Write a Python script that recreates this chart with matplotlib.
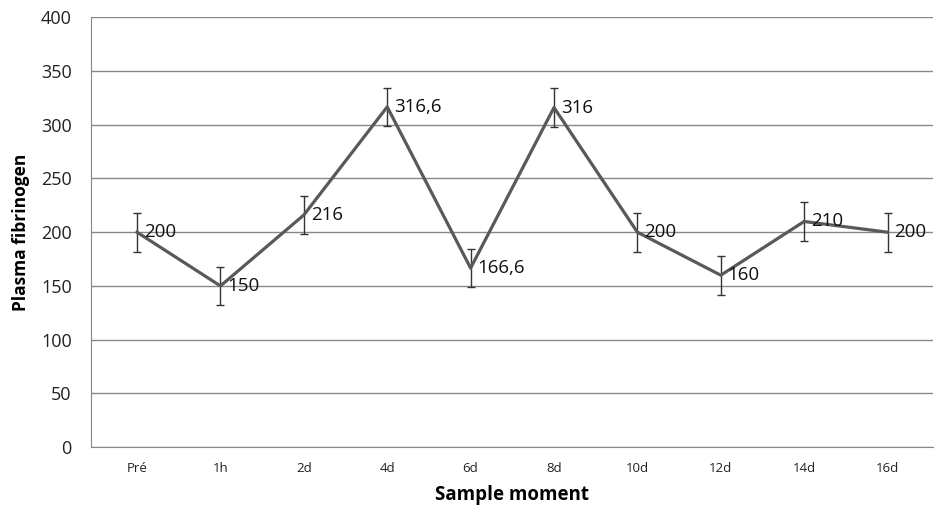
import numpy as np
import matplotlib.pyplot as plt

moments = ["Pré", "1h", "2d", "4d", "6d", "8d", "10d", "12d", "14d", "16d"]
fibrinogen = [200, 150, 216, 316.6, 166.6, 316, 200, 160, 210, 200]
errors = [18, 18, 18, 18, 18, 18, 18, 18, 18, 18]
labels = ["200", "150", "216", "316,6", "166,6", "316", "200", "160", "210", "200"]

plt.rcParams['font.family'] = ['Open Sans', 'DejaVu Sans']

fig = plt.figure(figsize=(9.4, 5.07), dpi=100)
ax = fig.add_axes([0.097, 0.118, 0.896, 0.848])

x = np.arange(len(moments))
ax.errorbar(x, fibrinogen, yerr=errors, color="#595959", lw=2.3,
            ecolor="#333333", elinewidth=1, capsize=3, capthick=1, zorder=3)

for xi, yi, lab in zip(x, fibrinogen, labels):
    ax.annotate(lab, (xi, yi), xytext=(5, 0), textcoords="offset points",
                va="center", ha="left", fontsize=13.5, color="#111111", zorder=4)

ax.set_xlim(-0.55, len(moments) - 0.45)
ax.set_ylim(0, 400)
ax.set_yticks(range(0, 401, 50))
ax.set_xticks(x)
ax.set_xticklabels(moments, fontsize=9.5)
ax.tick_params(axis="y", labelsize=13, length=0, pad=14, labelcolor="#222222")
ax.tick_params(axis="x", length=0, pad=11, labelcolor="#222222")
ax.yaxis.grid(True, color="#888888", lw=1)
ax.set_axisbelow(True)

for s in ["top", "right"]:
    ax.spines[s].set_visible(False)
for s in ["left", "bottom"]:
    ax.spines[s].set_color("#888888")

ax.set_xlabel("Sample moment", fontsize=13.5, fontweight="bold", labelpad=7)
ax.set_ylabel("Plasma fibrinogen", fontsize=12.5, fontweight="bold", labelpad=8)

fig.savefig("out.png", dpi=100)
